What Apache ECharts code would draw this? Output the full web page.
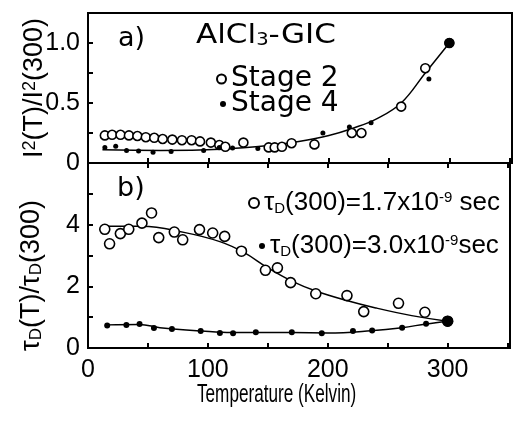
<!DOCTYPE html>
<html>
<head>
<meta charset="UTF-8">
<title>AlCl3-GIC</title>
<style>
  html, body { margin: 0; padding: 0; background: #fff; }
  #chart { width: 513px; height: 421px; }
</style>
<script src="https://cdn.jsdelivr.net/npm/echarts@6/dist/echarts.min.js"></script>
</head>
<body>
<div id="chart"></div>
<script>
  // panel a) : I^2(T)/I^2(300)
  const stage2T = [14, 20, 27, 34, 41, 48, 55, 62, 70, 78, 86, 93, 102, 109, 114, 129, 150, 155, 161, 169, 188, 219, 227, 260, 280, 300];
  const stage2I = [0.23, 0.235, 0.235, 0.23, 0.225, 0.215, 0.21, 0.2, 0.195, 0.19, 0.19, 0.18, 0.17, 0.15, 0.135, 0.17, 0.13, 0.13, 0.135, 0.165, 0.155, 0.25, 0.25, 0.47, 0.79, 1.0];
  const stage4T = [14, 23, 32, 42, 54, 69, 96, 109, 120, 141, 195, 217, 235, 283, 300];
  const stage4I = [0.13, 0.14, 0.105, 0.1, 0.09, 0.095, 0.105, 0.13, 0.125, 0.12, 0.25, 0.3, 0.335, 0.7, 1.0];
  const fitAT = [12, 60, 110, 150, 175, 200, 220, 240, 260, 280, 300];
  const fitAV = [0.11, 0.105, 0.115, 0.145, 0.18, 0.23, 0.29, 0.37, 0.5, 0.75, 1.0];

  // panel b) : tau_D(T)/tau_D(300)
  const tau17T = [14, 18, 27, 34, 45, 53, 59, 72, 79, 93, 104, 114, 128, 148, 158, 169, 190, 216, 230, 259, 281, 300];
  const tau17V = [3.85, 3.38, 3.71, 3.85, 4.05, 4.38, 3.58, 3.76, 3.51, 3.84, 3.73, 3.62, 3.14, 2.52, 2.6, 2.12, 1.76, 1.7, 1.18, 1.45, 1.16, 0.87];
  const tau30T = [16, 32, 43, 55, 70, 94, 110, 121, 140, 170, 195, 221, 237, 262, 282, 300];
  const tau30V = [0.73, 0.75, 0.78, 0.65, 0.62, 0.55, 0.49, 0.48, 0.51, 0.51, 0.48, 0.55, 0.57, 0.66, 0.79, 0.87];
  const fitB1T = [13, 45, 80, 110, 130, 150, 170, 190, 215, 240, 270, 300];
  const fitB1V = [3.95, 3.95, 3.75, 3.45, 3.1, 2.6, 2.17, 1.85, 1.55, 1.3, 1.05, 0.87];
  const fitB2T = [16, 43, 60, 95, 120, 170, 200, 236, 262, 282, 300];
  const fitB2V = [0.75, 0.76, 0.66, 0.55, 0.5, 0.5, 0.49, 0.56, 0.66, 0.78, 0.87];

  const xTickLabels = [0, 100, 200, 300];
  const yTickLabelsA = { 0: '0', 0.5: '0.5', 1: '1.0' };
  const yTickLabelsB = [0, 2, 4];

  const zip = (a, b) => a.map((v, i) => [v, b[i]]);

  const SANS = "'Liberation Sans', sans-serif";
  const WIDE = "'DejaVu Sans', sans-serif";
  const ink = '#000';

  const chart = echarts.init(document.getElementById('chart'));

  function xAxisFor(grid, pos, showLabels) {
    return {
      type: 'value', gridIndex: grid, position: pos,
      min: 0, max: 352, interval: 50,
      axisLine: { show: true, lineStyle: { color: ink, width: 2 } },
      axisTick: { show: true, inside: true, length: 5, lineStyle: { color: ink, width: 2 } },
      axisLabel: {
        show: showLabels, margin: 10, color: ink, fontSize: 25, fontFamily: SANS,
        formatter: v => xTickLabels.includes(v) ? String(v) : ''
      },
      splitLine: { show: false }
    };
  }

  const richSubSup = {
    sub: { fontSize: 15, verticalAlign: 'bottom', fontFamily: SANS, color: ink },
    sup: { fontSize: 15, verticalAlign: 'top', fontFamily: SANS, color: ink }
  };

  chart.setOption({
    animation: false,
    backgroundColor: '#fff',
    grid: [
      { left: 88, right: 1, top: 13, height: 150, show: true, borderColor: ink, borderWidth: 2 },
      { left: 88, right: 1, top: 163, height: 185, show: true, borderColor: ink, borderWidth: 2 }
    ],
    xAxis: [
      xAxisFor(0, 'bottom', false),
      xAxisFor(1, 'bottom', true),
      xAxisFor(1, 'top', false)
    ],
    yAxis: [
      {
        type: 'value', gridIndex: 0, min: 0, max: 1.25, interval: 0.25,
        axisLine: { show: true, lineStyle: { color: ink, width: 2 } },
        axisTick: { show: true, inside: true, length: 5, lineStyle: { color: ink, width: 2 } },
        axisLabel: {
          margin: 8, color: ink, fontSize: 25, fontFamily: SANS,
          formatter: v => (v in yTickLabelsA) ? yTickLabelsA[v] : ''
        },
        splitLine: { show: false },
        name: 'I{sup|2}(T)/I{sup|2}(300)',
        nameLocation: 'middle', nameGap: 40, nameMoveOverlap: false,
        nameTextStyle: {
          color: ink, fontSize: 27, fontFamily: SANS,
          rich: { sup: { fontSize: 18, verticalAlign: 'top', fontFamily: SANS, color: ink } }
        }
      },
      {
        type: 'value', gridIndex: 1, min: 0, max: 6, interval: 1,
        axisLine: { show: true, lineStyle: { color: ink, width: 2 } },
        axisTick: { show: true, inside: true, length: 5, lineStyle: { color: ink, width: 2 } },
        axisLabel: {
          margin: 8, color: ink, fontSize: 25, fontFamily: SANS,
          formatter: v => yTickLabelsB.includes(v) ? String(v) : ''
        },
        splitLine: { show: false },
        name: 'τ{sub|D}(T)/τ{sub|D}(300)',
        nameLocation: 'middle', nameGap: 43, nameMoveOverlap: false,
        nameTextStyle: {
          color: ink, fontSize: 27, fontFamily: SANS, padding: [0, 40, 0, 0],
          rich: { sub: { fontSize: 17, verticalAlign: 'bottom', fontFamily: SANS, color: ink } }
        }
      }
    ],
    legend: [
      {
        left: 216, top: 65, padding: 0, itemWidth: 9, itemHeight: 9,
        textStyle: { color: ink, fontSize: 28, fontFamily: WIDE },
        data: ['Stage 2']
      },
      {
        left: 220, top: 90, padding: 0, itemWidth: 6, itemHeight: 6,
        textStyle: { color: ink, fontSize: 28, fontFamily: WIDE },
        data: ['Stage 4']
      },
      {
        left: 248, top: 190, padding: 0, itemWidth: 10, itemHeight: 10,
        textStyle: { color: ink, fontSize: 26, fontFamily: SANS, rich: richSubSup },
        formatter: () => 'τ{sub|D}(300)=1.7x10{sup|-9} sec',
        data: ['tau17']
      },
      {
        left: 259, top: 233, padding: 0, itemWidth: 6, itemHeight: 6,
        textStyle: { color: ink, fontSize: 26, fontFamily: SANS, rich: richSubSup },
        formatter: () => 'τ{sub|D}(300)=3.0x10{sup|-9}sec',
        data: ['tau30']
      }
    ],
    graphic: [
      { type: 'text', left: 118, top: 25, style: { text: 'a)', fontSize: 27, fontFamily: WIDE, fill: ink } },
      {
        type: 'text', left: 196, top: 22, scaleX: 1.15,
        style: {
          text: 'AlCl{s|3}-GIC', fontSize: 27, fontFamily: WIDE, fill: ink,
          rich: { s: { fontSize: 17, verticalAlign: 'bottom', fontFamily: WIDE, fill: ink } }
        }
      },
      { type: 'text', left: 117, top: 175, style: { text: 'b)', fontSize: 27, fontFamily: WIDE, fill: ink } },
      { type: 'text', left: 197, top: 382, scaleX: 0.66, style: { text: 'Temperature (Kelvin)', fontSize: 26, fontFamily: SANS, fill: ink } }
    ],
    series: [
      {
        name: 'fitA', type: 'line', xAxisIndex: 0, yAxisIndex: 0, smooth: 0.4,
        showSymbol: false, lineStyle: { color: ink, width: 1.5 }, data: zip(fitAT, fitAV), z: 1
      },
      {
        name: 'Stage 2', type: 'scatter', xAxisIndex: 0, yAxisIndex: 0, symbol: 'circle', symbolSize: 9,
        itemStyle: { color: '#fff', borderColor: ink, borderWidth: 1.6, opacity: 1 }, data: zip(stage2T, stage2I), z: 2
      },
      {
        name: 'Stage 4', type: 'scatter', xAxisIndex: 0, yAxisIndex: 0, symbol: 'circle',
        symbolSize: v => v[0] >= 300 ? 10 : 5,
        itemStyle: { color: ink, opacity: 1 }, data: zip(stage4T, stage4I), z: 3
      },
      {
        name: 'fitB1', type: 'line', xAxisIndex: 1, yAxisIndex: 1, smooth: 0.4,
        showSymbol: false, lineStyle: { color: ink, width: 1.5 }, data: zip(fitB1T, fitB1V), z: 1
      },
      {
        name: 'fitB2', type: 'line', xAxisIndex: 1, yAxisIndex: 1, smooth: 0.4,
        showSymbol: false, lineStyle: { color: ink, width: 1.5 }, data: zip(fitB2T, fitB2V), z: 1
      },
      {
        name: 'tau17', type: 'scatter', xAxisIndex: 1, yAxisIndex: 1, symbol: 'circle', symbolSize: 10,
        itemStyle: { color: '#fff', borderColor: ink, borderWidth: 1.6, opacity: 1 }, data: zip(tau17T, tau17V), z: 2
      },
      {
        name: 'tau30', type: 'scatter', xAxisIndex: 1, yAxisIndex: 1, symbol: 'circle',
        symbolSize: v => v[0] >= 300 ? 11 : 6,
        itemStyle: { color: ink, opacity: 1 }, data: zip(tau30T, tau30V), z: 3
      }
    ]
  });
</script>
</body>
</html>
